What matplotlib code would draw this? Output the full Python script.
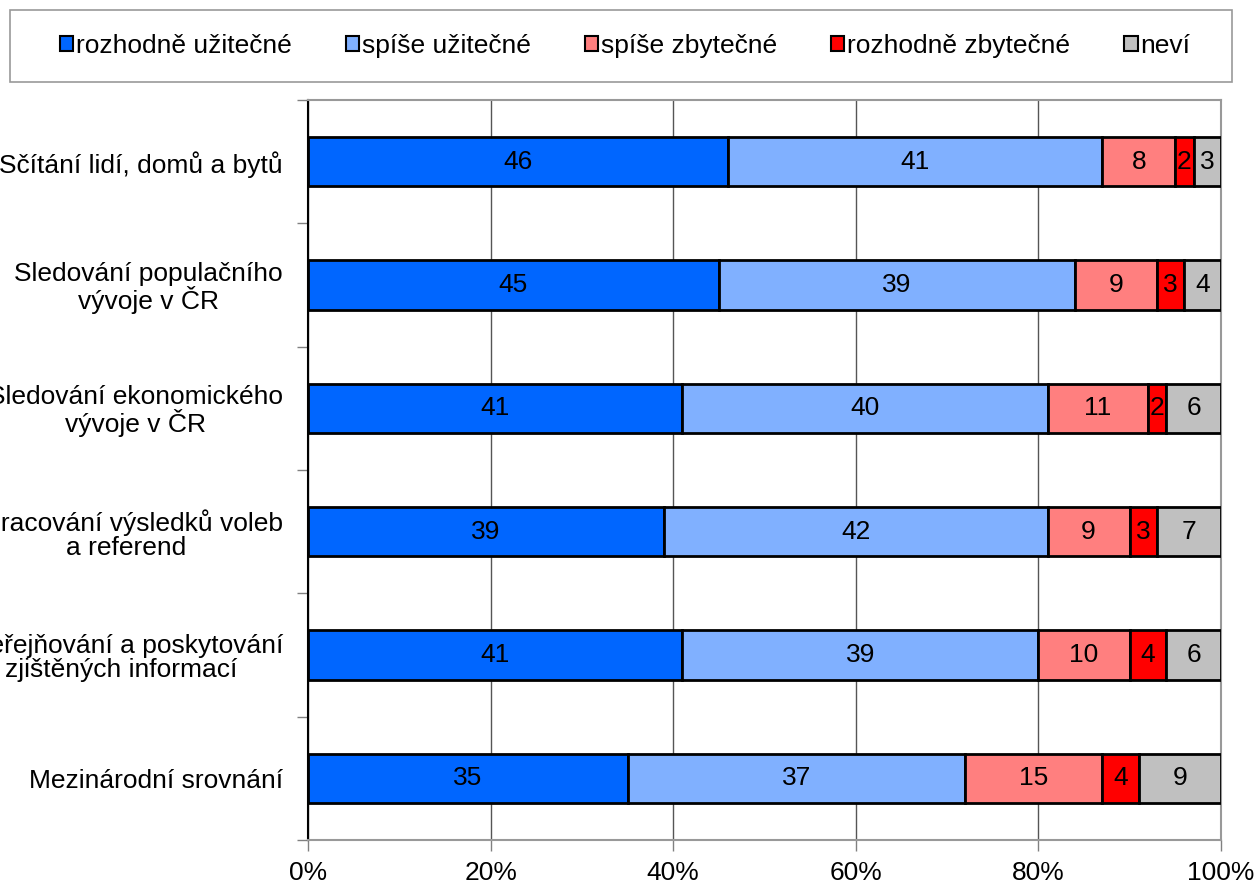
import matplotlib
matplotlib.use("Agg")
import matplotlib.pyplot as plt
from matplotlib.patches import Rectangle, Patch
import numpy as np

plt.rcParams['font.family'] = ['Liberation Sans', 'DejaVu Sans']

categories = [
    "Sčítání lidí, domů a bytů",
    "Sledování populačního\nvývoje v ČR",
    "Sledování ekonomického\nvývoje v ČR",
    "Zpracování výsledků voleb\na referend",
    "Zveřejňování a poskytování\nzjištěných informací",
    "Mezinárodní srovnání",
]
series_names = ["rozhodně užitečné", "spíše užitečné", "spíše zbytečné",
                "rozhodně zbytečné", "neví"]
rozhodne_uzitecne = [46, 45, 41, 39, 41, 35]
spise_uzitecne = [41, 39, 40, 42, 39, 37]
spise_zbytecne = [8, 9, 11, 9, 10, 15]
rozhodne_zbytecne = [2, 3, 2, 3, 4, 4]
nevi = [3, 4, 6, 7, 6, 9]
x_ticks = [0, 20, 40, 60, 80, 100]
x_tick_labels = ["0%", "20%", "40%", "60%", "80%", "100%"]

colors = ["#0066FF", "#80B0FF", "#FF7F7F", "#FF0000", "#C0C0C0"]
series = [rozhodne_uzitecne, spise_uzitecne, spise_zbytecne, rozhodne_zbytecne, nevi]

FS = 19

fig = plt.figure(figsize=(12.55, 8.84), dpi=100)
ax = fig.add_axes([308/1255, 1 - 840/884, (1221-308)/1255, (840-100)/884])

y = np.arange(len(categories))
left = np.zeros(len(categories))
for vals, col, name in zip(series, colors, series_names):
    vals = np.array(vals, dtype=float)
    ax.barh(y, vals, left=left, height=0.4, color=col, edgecolor="black",
            linewidth=2, label=name, zorder=3)
    for yi, l, v in zip(y, left, vals):
        ax.text(l + v / 2, yi, f"{int(v)}", ha="center", va="center",
                fontsize=FS, color="black", zorder=4)
    left += vals

ax.set_xlim(0, 100)
ax.set_ylim(len(categories) - 0.5, -0.5)
ax.set_xticks(x_ticks)
ax.set_xticklabels(x_tick_labels, fontsize=FS)
ax.xaxis.grid(True, color="#555555", linewidth=1, zorder=0)
ax.set_axisbelow(True)

ax.set_yticks(y)
ax.set_yticklabels(categories, fontsize=FS, ha="right", multialignment="center",
                   linespacing=1.0)
ax.tick_params(axis="y", length=0, pad=18)
ax.set_yticks(np.arange(len(categories) + 1) - 0.5, minor=True)
ax.tick_params(axis="y", which="minor", length=8, color="#808080", width=1)
ax.tick_params(axis="x", length=8, color="#808080", width=1, pad=7)

ax.spines["left"].set_color("black")
ax.spines["left"].set_linewidth(1.5)
for s in ["top", "right", "bottom"]:
    ax.spines[s].set_color("#999999")
    ax.spines[s].set_linewidth(1.5)

# legend box
fig.patches.append(Rectangle((10/1255, 1 - 82/884), (1232-10)/1255, 72/884,
                             transform=fig.transFigure, facecolor="white",
                             edgecolor="#999999", linewidth=1.2))
handles = [Patch(facecolor=c, edgecolor="black", linewidth=1.5) for c in colors]
fig.legend(handles, series_names, loc="center", bbox_to_anchor=(625/1255, 1 - 46/884),
           ncol=5, frameon=False, fontsize=FS, handlelength=0.5, handleheight=0.5,
           handletextpad=0.1, columnspacing=2.06)

fig.savefig("out.png", dpi=100)
